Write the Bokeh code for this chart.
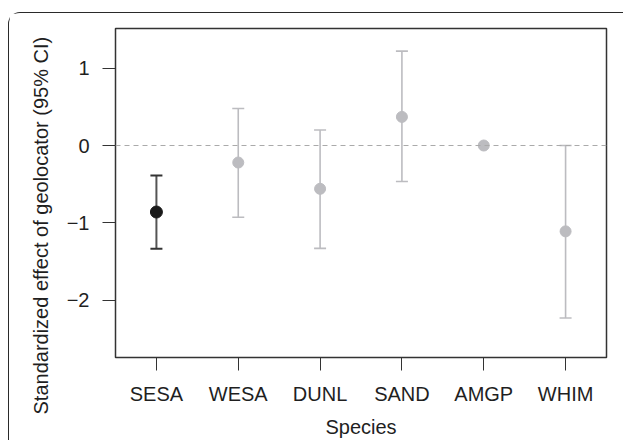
from bokeh.plotting import figure
from bokeh.models import (ColumnDataSource, Range1d, FixedTicker, Whisker, TeeHead, Span, Title)
from bokeh.embed import file_html
from bokeh.resources import INLINE

species = ["SESA", "WESA", "DUNL", "SAND", "AMGP", "WHIM"]
estimate = [-0.86, -0.22, -0.56, 0.37, 0.0, -1.11]
lower = [-1.335, -0.927, -1.33, -0.466, 0.0, -2.23]
upper = [-0.388, 0.478, 0.20, 1.22, 0.0, 0.0]
highlight = [True, False, False, False, False, False]
y_ticks = [-2, -1, 0, 1]
y_tick_labels = ["\u22122", "\u22121", "0", "1"]
x_title = "Species"
y_title = "Standardized effect of geolocator (95% CI)"

FONT = "Liberation Sans"
DARK = "#1f1f1f"
GRAY = "#bcbcc0"

xs = list(range(len(species)))

def subset(flag, need_bar=False):
    d = {"x": [], "y": [], "lower": [], "upper": []}
    for i, h in enumerate(highlight):
        if h != flag:
            continue
        if need_bar and lower[i] == upper[i]:
            continue
        d["x"].append(xs[i]); d["y"].append(estimate[i])
        d["lower"].append(lower[i]); d["upper"].append(upper[i])
    return ColumnDataSource(d)

p = figure(width=615, height=428, output_backend="svg", toolbar_location=None,
           x_range=Range1d(-0.5, 5.5), y_range=Range1d(-2.741, 1.513),
           min_border_left=106, min_border_right=18, min_border_top=15,
           min_border_bottom=84)
p.margin = (12, 0, 0, 8)
p.styles = {"border-left": "1.6px solid #2a2a2a", "border-top": "1.6px solid #2a2a2a",
            "border-right": "0px none", "border-bottom": "0px none",
            "border-top-left-radius": "12px", "border-top-right-radius": "0px",
            "border-bottom-right-radius": "0px", "border-bottom-left-radius": "0px"}
p.xgrid.visible = False
p.ygrid.visible = False
p.outline_line_color = "#333333"
p.outline_line_width = 1.5

for ax in (p.xaxis[0], p.yaxis[0]):
    ax.axis_line_color = None
    ax.major_tick_out = 13
    ax.major_tick_in = 0
    ax.minor_tick_line_color = None
    ax.major_tick_line_color = "#333333"
    ax.major_tick_line_width = 1
    ax.major_label_text_font = FONT
    ax.major_label_text_font_size = "20px"
    ax.major_label_text_color = DARK
    ax.major_label_standoff = 13
    ax.axis_label_text_font = FONT
    ax.axis_label_text_font_size = "20px"
    ax.axis_label_text_color = DARK
    ax.axis_label_text_font_style = "normal"

p.xaxis.ticker = FixedTicker(ticks=xs)
p.xaxis.major_label_overrides = {x: s for x, s in zip(xs, species)}
p.xaxis.major_label_standoff = 12
p.xaxis.axis_label = x_title
p.xaxis.axis_label_standoff = 8
p.yaxis.ticker = FixedTicker(ticks=y_ticks)
p.yaxis.major_label_overrides = {t: s for t, s in zip(y_ticks, y_tick_labels)}

p.add_layout(Title(text=y_title, align="left", offset=-57, vertical_align="bottom",
                   standoff=23, text_font=FONT, text_font_size="20px",
                   text_font_style="normal", text_color=DARK), "left")

p.add_layout(Span(location=0, dimension="width", line_color="#aaaaaa",
                  line_width=1, line_dash="5 4"))

gray_bar = subset(False, need_bar=True)
dark_bar = subset(True, need_bar=True)
p.add_layout(Whisker(source=gray_bar, base="x", upper="upper", lower="lower",
                     dimension="height", line_color=GRAY, line_width=1.6,
                     upper_head=TeeHead(size=12, line_color=GRAY, line_width=1.6),
                     lower_head=TeeHead(size=12, line_color=GRAY, line_width=1.6)))
p.add_layout(Whisker(source=dark_bar, base="x", upper="upper", lower="lower",
                     dimension="height", line_color="#555555", line_width=2,
                     upper_head=TeeHead(size=12, line_color="#333333", line_width=1.8),
                     lower_head=TeeHead(size=12, line_color="#333333", line_width=1.8)))

p.scatter("x", "y", source=subset(False), size=11, color=GRAY, line_color=GRAY)
p.scatter("x", "y", source=subset(True), size=12, color="#1a1a1a", line_color="#1a1a1a")

open("out.html", "w").write(file_html(p, INLINE))
